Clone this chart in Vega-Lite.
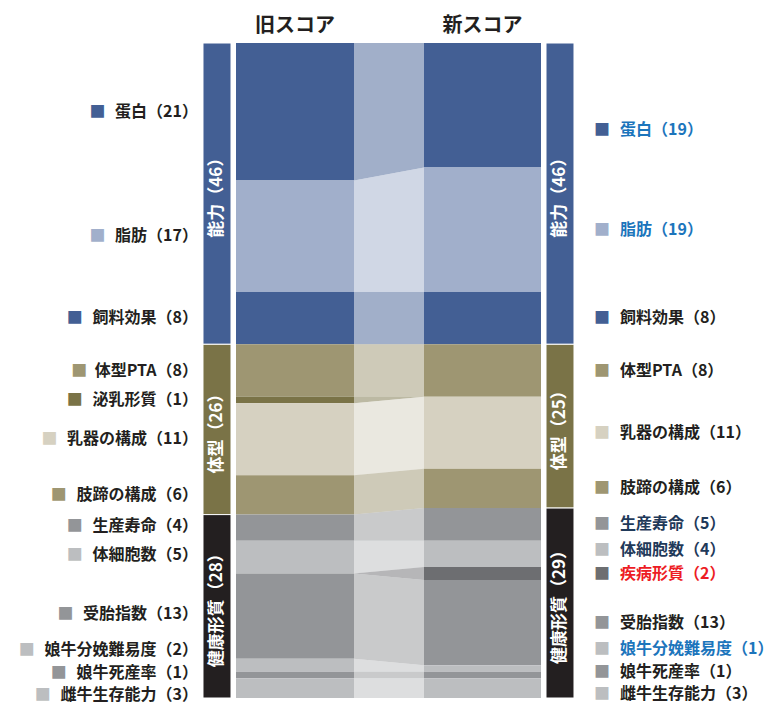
{
  "$schema": "https://vega.github.io/schema/vega-lite/v6.json",
  "background": "white",
  "padding": {"top": 15, "left": 0, "right": 0, "bottom": 0},
  "autosize": {"type": "pad"},
  "config": {"view": {"stroke": null}, "font": "Noto Sans CJK JP"},
  "datasets": {
    "items": [
      {"score": "旧スコア", "order": 1, "item": "蛋白", "value": 21, "label": "蛋白（21）"},
      {"score": "旧スコア", "order": 2, "item": "脂肪", "value": 17, "label": "脂肪（17）"},
      {"score": "旧スコア", "order": 3, "item": "飼料効果", "value": 8, "label": "飼料効果（8）"},
      {"score": "旧スコア", "order": 4, "item": "体型PTA", "value": 8, "label": "体型PTA（8）"},
      {"score": "旧スコア", "order": 5, "item": "泌乳形質", "value": 1, "label": "泌乳形質（1）"},
      {"score": "旧スコア", "order": 6, "item": "乳器の構成", "value": 11, "label": "乳器の構成（11）"},
      {"score": "旧スコア", "order": 7, "item": "肢蹄の構成", "value": 6, "label": "肢蹄の構成（6）"},
      {"score": "旧スコア", "order": 8, "item": "生産寿命", "value": 4, "label": "生産寿命（4）"},
      {"score": "旧スコア", "order": 9, "item": "体細胞数", "value": 5, "label": "体細胞数（5）"},
      {"score": "旧スコア", "order": 10, "item": "疾病形質", "value": 0, "label": "疾病形質（0）"},
      {"score": "旧スコア", "order": 11, "item": "受胎指数", "value": 13, "label": "受胎指数（13）"},
      {"score": "旧スコア", "order": 12, "item": "娘牛分娩難易度", "value": 2, "label": "娘牛分娩難易度（2）"},
      {"score": "旧スコア", "order": 13, "item": "娘牛死産率", "value": 1, "label": "娘牛死産率（1）"},
      {"score": "旧スコア", "order": 14, "item": "雌牛生存能力", "value": 3, "label": "雌牛生存能力（3）"},
      {"score": "新スコア", "order": 1, "item": "蛋白", "value": 19, "label": "蛋白（19）"},
      {"score": "新スコア", "order": 2, "item": "脂肪", "value": 19, "label": "脂肪（19）"},
      {"score": "新スコア", "order": 3, "item": "飼料効果", "value": 8, "label": "飼料効果（8）"},
      {"score": "新スコア", "order": 4, "item": "体型PTA", "value": 8, "label": "体型PTA（8）"},
      {"score": "新スコア", "order": 5, "item": "泌乳形質", "value": 0, "label": "泌乳形質（0）"},
      {"score": "新スコア", "order": 6, "item": "乳器の構成", "value": 11, "label": "乳器の構成（11）"},
      {"score": "新スコア", "order": 7, "item": "肢蹄の構成", "value": 6, "label": "肢蹄の構成（6）"},
      {"score": "新スコア", "order": 8, "item": "生産寿命", "value": 5, "label": "生産寿命（5）"},
      {"score": "新スコア", "order": 9, "item": "体細胞数", "value": 4, "label": "体細胞数（4）"},
      {"score": "新スコア", "order": 10, "item": "疾病形質", "value": 2, "label": "疾病形質（2）"},
      {"score": "新スコア", "order": 11, "item": "受胎指数", "value": 13, "label": "受胎指数（13）"},
      {"score": "新スコア", "order": 12, "item": "娘牛分娩難易度", "value": 1, "label": "娘牛分娩難易度（1）"},
      {"score": "新スコア", "order": 13, "item": "娘牛死産率", "value": 1, "label": "娘牛死産率（1）"},
      {"score": "新スコア", "order": 14, "item": "雌牛生存能力", "value": 3, "label": "雌牛生存能力（3）"}
    ],
    "groups": [
      {"score": "旧スコア", "order": 1, "group": "能力", "value": 46, "label": "能力（46）"},
      {"score": "旧スコア", "order": 2, "group": "体型", "value": 26, "label": "体型（26）"},
      {"score": "旧スコア", "order": 3, "group": "健康形質", "value": 28, "label": "健康形質（28）"},
      {"score": "新スコア", "order": 1, "group": "能力", "value": 46, "label": "能力（46）"},
      {"score": "新スコア", "order": 2, "group": "体型", "value": 25, "label": "体型（25）"},
      {"score": "新スコア", "order": 3, "group": "健康形質", "value": 29, "label": "健康形質（29）"}
    ]
  },
  "bounds": "flush",
  "spacing": 0,
  "resolve": {"scale": {"color": "independent", "x": "independent", "y": "independent"}},
  "hconcat": [
    {
      "width": 198, "height": 655,
      "data": {"name": "items"},
      "transform": [
        {"stack": "value", "groupby": ["score"], "sort": [{"field": "order", "order": "ascending"}], "as": ["s0", "s1"]},
        {"filter": "datum.score == '旧スコア' && datum.value > 0"},
        {"fold": ["s0", "s1"], "as": ["edge", "pos"]}
      ],
      "layer": [
        {
          "mark": {"type": "text", "align": "right", "baseline": "middle", "fontSize": 16, "fontWeight": "bold", "text": "■",
                   "dx": {"expr": "-(length(replace(datum.label, regexp('[ -~]', 'g'), '')) * 16 + (length(datum.label) - length(replace(datum.label, regexp('[ -~]', 'g'), ''))) * 9.2 + 10)"},
                   "dy": {"expr": "datum.item == '娘牛分娩難易度' ? -15 : datum.item == '雌牛生存能力' ? 7 : datum.item == '娘牛死産率' ? -2 : (datum.item == '生産寿命' || datum.item == '体細胞数' || datum.item == '受胎指数') ? -2 : 0"}},
          "encoding": {
            "x": {"value": "width"},
            "y": {"field": "pos", "aggregate": "mean", "type": "quantitative", "scale": {"domain": [0, 100], "reverse": true, "nice": false, "zero": false}, "axis": null},
            "detail": [{"field": "item"}, {"field": "label"}],
            "color": {"field": "item", "type": "nominal", "legend": null,
              "scale": {"domain": ["蛋白","脂肪","飼料効果","体型PTA","泌乳形質","乳器の構成","肢蹄の構成","生産寿命","体細胞数","疾病形質","受胎指数","娘牛分娩難易度","娘牛死産率","雌牛生存能力"],
                        "range": ["#435F94","#A1AFCB","#435F94","#9E9672","#7A7347","#D6D1C1","#9E9672","#939598","#BCBEC0","#6D6E71","#939598","#BCBEC0","#939598","#BCBEC0"]}}
          }
        },
        {
          "mark": {"type": "text", "align": "right", "baseline": "middle", "fontSize": 16, "fontWeight": "bold", "color": "#231F20",
                   "dy": {"expr": "datum.item == '娘牛分娩難易度' ? -15 : datum.item == '雌牛生存能力' ? 7 : datum.item == '娘牛死産率' ? -2 : (datum.item == '生産寿命' || datum.item == '体細胞数' || datum.item == '受胎指数') ? -2 : 0"}},
          "encoding": {
            "x": {"value": "width"},
            "y": {"field": "pos", "aggregate": "mean", "type": "quantitative", "scale": {"domain": [0, 100], "reverse": true, "nice": false, "zero": false}, "axis": null},
            "detail": {"field": "item"},
            "text": {"field": "label"}
          }
        }
      ]
    },
    {
      "width": 38, "height": 655,
      "data": {"name": "groups"},
      "transform": [
        {"stack": "value", "groupby": ["score"], "sort": [{"field": "order", "order": "ascending"}], "as": ["s0", "s1"]},
        {"filter": "datum.score == '旧スコア'"}
      ],
      "layer": [
        {
          "mark": {"type": "bar", "stroke": "white", "strokeWidth": 1},
          "encoding": {
            "x": {"field": "score", "type": "nominal", "axis": null, "scale": {"paddingInner": 0, "paddingOuter": 0.17857, "align": 0.5, "round": false}},
            "y": {"field": "s0", "type": "quantitative", "scale": {"domain": [0, 100], "reverse": true, "nice": false, "zero": false}, "axis": null},
            "y2": {"field": "s1"},
            "color": {"field": "group", "type": "nominal", "legend": null, "scale": {"domain": ["能力","体型","健康形質"], "range": ["#435F94","#7A7347","#231F20"]}}
          }
        },
        {
          "transform": [{"fold": ["s0", "s1"], "as": ["edge", "pos"]}],
          "mark": {"type": "text", "angle": 270, "align": "center", "baseline": "middle", "fontSize": 17, "fontWeight": "bold", "color": "white"},
          "encoding": {
            "x": {"field": "score", "type": "nominal", "axis": null},
            "y": {"field": "pos", "aggregate": "mean", "type": "quantitative"},
            "text": {"field": "label"}
          }
        }
      ]
    },
    {
      "width": 118, "height": 655,
      "data": {"name": "items"},
      "transform": [
        {"stack": "value", "groupby": ["score"], "sort": [{"field": "order", "order": "ascending"}], "as": ["s0", "s1"]},
        {"filter": "datum.score == '旧スコア'"}
      ],
      "mark": {"type": "bar"},
      "encoding": {
        "x": {"field": "score", "type": "nominal", "scale": {"paddingInner": 0, "paddingOuter": 0},
              "axis": {"orient": "top", "title": null, "ticks": false, "domain": false, "labelAngle": 0, "labelFontSize": 20, "labelFontWeight": "bold", "labelColor": "#231F20", "labelPadding": 8}},
        "y": {"field": "s0", "type": "quantitative", "scale": {"domain": [0, 100], "reverse": true, "nice": false, "zero": false}, "axis": null},
        "y2": {"field": "s1"},
        "color": {"field": "item", "type": "nominal", "legend": null,
          "scale": {"domain": ["蛋白","脂肪","飼料効果","体型PTA","泌乳形質","乳器の構成","肢蹄の構成","生産寿命","体細胞数","疾病形質","受胎指数","娘牛分娩難易度","娘牛死産率","雌牛生存能力"],
                    "range": ["#435F94","#A1AFCB","#435F94","#9E9672","#7A7347","#D6D1C1","#9E9672","#939598","#BCBEC0","#6D6E71","#939598","#BCBEC0","#939598","#BCBEC0"]}}
      }
    },
    {
      "width": 70, "height": 655,
      "data": {"name": "items"},
      "transform": [
        {"stack": "value", "groupby": ["score"], "sort": [{"field": "order", "order": "ascending"}], "as": ["s0", "s1"]}
      ],
      "mark": {"type": "area", "opacity": 0.5},
      "encoding": {
        "x": {"field": "score", "type": "nominal", "axis": null, "scale": {"type": "point", "padding": 0, "domain": ["旧スコア", "新スコア"]}},
        "y": {"field": "s0", "type": "quantitative", "scale": {"domain": [0, 100], "reverse": true, "nice": false, "zero": false}, "axis": null},
        "y2": {"field": "s1"},
        "detail": {"field": "item"},
        "color": {"field": "item", "type": "nominal", "legend": null,
          "scale": {"domain": ["蛋白","脂肪","飼料効果","体型PTA","泌乳形質","乳器の構成","肢蹄の構成","生産寿命","体細胞数","疾病形質","受胎指数","娘牛分娩難易度","娘牛死産率","雌牛生存能力"],
                    "range": ["#435F94","#A1AFCB","#435F94","#9E9672","#7A7347","#D6D1C1","#9E9672","#939598","#BCBEC0","#6D6E71","#939598","#BCBEC0","#939598","#BCBEC0"]}}
      }
    },
    {
      "width": 117, "height": 655,
      "data": {"name": "items"},
      "transform": [
        {"stack": "value", "groupby": ["score"], "sort": [{"field": "order", "order": "ascending"}], "as": ["s0", "s1"]},
        {"filter": "datum.score == '新スコア'"}
      ],
      "mark": {"type": "bar"},
      "encoding": {
        "x": {"field": "score", "type": "nominal", "scale": {"paddingInner": 0, "paddingOuter": 0},
              "axis": {"orient": "top", "title": null, "ticks": false, "domain": false, "labelAngle": 0, "labelFontSize": 20, "labelFontWeight": "bold", "labelColor": "#231F20", "labelPadding": 8}},
        "y": {"field": "s0", "type": "quantitative", "scale": {"domain": [0, 100], "reverse": true, "nice": false, "zero": false}, "axis": null},
        "y2": {"field": "s1"},
        "color": {"field": "item", "type": "nominal", "legend": null,
          "scale": {"domain": ["蛋白","脂肪","飼料効果","体型PTA","泌乳形質","乳器の構成","肢蹄の構成","生産寿命","体細胞数","疾病形質","受胎指数","娘牛分娩難易度","娘牛死産率","雌牛生存能力"],
                    "range": ["#435F94","#A1AFCB","#435F94","#9E9672","#7A7347","#D6D1C1","#9E9672","#939598","#BCBEC0","#6D6E71","#939598","#BCBEC0","#939598","#BCBEC0"]}}
      }
    },
    {
      "width": 53, "height": 655,
      "data": {"name": "groups"},
      "transform": [
        {"stack": "value", "groupby": ["score"], "sort": [{"field": "order", "order": "ascending"}], "as": ["s0", "s1"]},
        {"filter": "datum.score == '新スコア'"}
      ],
      "layer": [
        {
          "mark": {"type": "bar", "stroke": "white", "strokeWidth": 1},
          "encoding": {
            "x": {"field": "score", "type": "nominal", "axis": null, "scale": {"paddingInner": 0, "paddingOuter": 0.44643, "align": 0.2, "round": false}},
            "y": {"field": "s0", "type": "quantitative", "scale": {"domain": [0, 100], "reverse": true, "nice": false, "zero": false}, "axis": null},
            "y2": {"field": "s1"},
            "color": {"field": "group", "type": "nominal", "legend": null, "scale": {"domain": ["能力","体型","健康形質"], "range": ["#435F94","#7A7347","#231F20"]}}
          }
        },
        {
          "transform": [{"fold": ["s0", "s1"], "as": ["edge", "pos"]}],
          "mark": {"type": "text", "angle": 270, "align": "center", "baseline": "middle", "fontSize": 17, "fontWeight": "bold", "color": "white"},
          "encoding": {
            "x": {"field": "score", "type": "nominal", "axis": null},
            "y": {"field": "pos", "aggregate": "mean", "type": "quantitative"},
            "text": {"field": "label"}
          }
        }
      ]
    },
    {
      "width": 179, "height": 655,
      "data": {"name": "items"},
      "transform": [
        {"stack": "value", "groupby": ["score"], "sort": [{"field": "order", "order": "ascending"}], "as": ["s0", "s1"]},
        {"filter": "datum.score == '新スコア' && datum.value > 0"},
        {"fold": ["s0", "s1"], "as": ["edge", "pos"]}
      ],
      "layer": [
        {
          "mark": {"type": "text", "align": "left", "baseline": "middle", "fontSize": 16, "fontWeight": "bold", "text": "■",
                   "dy": {"expr": "datum.item == '蛋白' ? 25 : datum.item == '娘牛分娩難易度' ? -20 : datum.item == '雌牛生存能力' ? 6 : datum.item == '体細胞数' ? -4 : datum.item == '娘牛死産率' ? -3 : 0"}},
          "encoding": {
            "x": {"datum": 0, "type": "quantitative", "scale": {"domain": [0, 1]}, "axis": null},
            "y": {"field": "pos", "aggregate": "mean", "type": "quantitative", "scale": {"domain": [0, 100], "reverse": true, "nice": false, "zero": false}, "axis": null},
            "detail": {"field": "item"},
            "color": {"field": "item", "type": "nominal", "legend": null,
              "scale": {"domain": ["蛋白","脂肪","飼料効果","体型PTA","泌乳形質","乳器の構成","肢蹄の構成","生産寿命","体細胞数","疾病形質","受胎指数","娘牛分娩難易度","娘牛死産率","雌牛生存能力"],
                        "range": ["#435F94","#A1AFCB","#435F94","#9E9672","#7A7347","#D6D1C1","#9E9672","#939598","#BCBEC0","#6D6E71","#939598","#BCBEC0","#939598","#BCBEC0"]}}
          }
        },
        {
          "mark": {"type": "text", "align": "left", "baseline": "middle", "fontSize": 16, "fontWeight": "bold", "dx": 26,
                   "dy": {"expr": "datum.item == '蛋白' ? 25 : datum.item == '娘牛分娩難易度' ? -20 : datum.item == '雌牛生存能力' ? 6 : datum.item == '体細胞数' ? -4 : datum.item == '娘牛死産率' ? -3 : 0"}},
          "encoding": {
            "x": {"datum": 0, "type": "quantitative", "scale": {"domain": [0, 1]}, "axis": null},
            "y": {"field": "pos", "aggregate": "mean", "type": "quantitative", "scale": {"domain": [0, 100], "reverse": true, "nice": false, "zero": false}, "axis": null},
            "detail": {"field": "item"},
            "text": {"field": "label"},
            "color": {"condition": [
              {"test": "datum.item == '蛋白' || datum.item == '脂肪' || datum.item == '娘牛分娩難易度'", "value": "#1C75BC"},
              {"test": "datum.item == '疾病形質'", "value": "#ED1C24"},
              {"test": "datum.item == '生産寿命' || datum.item == '体細胞数'", "value": "#1F3A5A"}
            ], "value": "#231F20"}
          }
        }
      ]
    }
  ]
}
